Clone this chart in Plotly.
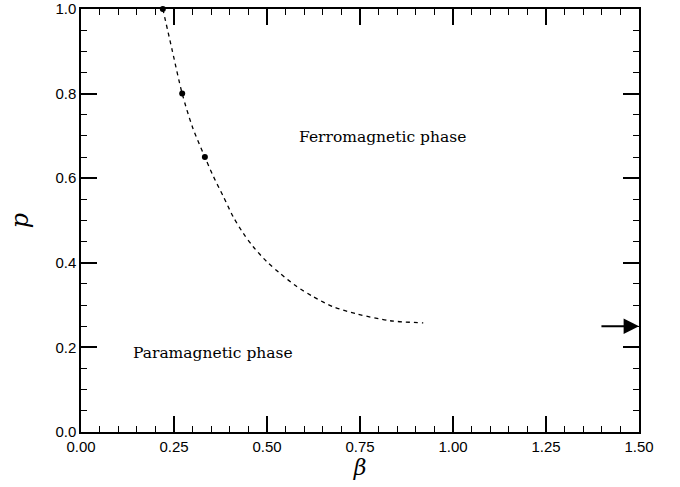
import plotly.graph_objects as go

# Phase boundary (dashed curve)
curve_beta = [0.220, 0.245, 0.272, 0.300, 0.333, 0.356, 0.383, 0.409, 0.436, 0.463, 0.499,
              0.535, 0.580, 0.624, 0.678, 0.742, 0.831, 0.920]
curve_p    = [1.000, 0.903, 0.800, 0.720, 0.650, 0.604, 0.556, 0.509, 0.470, 0.438, 0.403,
              0.375, 0.344, 0.320, 0.296, 0.279, 0.263, 0.258]

# Measured points
pts_beta = [0.22, 0.272, 0.333]
pts_p = [1.0, 0.80, 0.65]

# Arrow at large beta
arrow_p = 0.25

labels = ["Ferromagnetic phase", "Paramagnetic phase"]
label_beta = [0.81, 0.355]
label_p = [0.697, 0.187]

fig = go.Figure()
fig.add_trace(go.Scatter(x=curve_beta, y=curve_p, mode="lines",
                         line=dict(color="black", width=1.3, dash="4px,4px", shape="spline", smoothing=0.8),
                         showlegend=False, cliponaxis=False))
fig.add_trace(go.Scatter(x=pts_beta, y=pts_p, mode="markers",
                         marker=dict(color="black", size=6),
                         showlegend=False, cliponaxis=False))

for t, xb, yp in zip(labels, label_beta, label_p):
    fig.add_annotation(x=xb, y=yp, text=t, showarrow=False,
                       font=dict(family="DejaVu Serif", size=15.5, color="black"))

fig.add_annotation(x=1.5, y=arrow_p, ax=1.395, ay=arrow_p, axref="x", ayref="y",
                   xref="x", yref="y", text="", showarrow=True,
                   arrowhead=2, arrowsize=1.4, arrowwidth=2.2, arrowcolor="black")

axis_common = dict(showgrid=False, zeroline=False, showline=True, linecolor="black",
                   linewidth=1.5, mirror="ticks", ticks="inside", tickcolor="black",
                   tickwidth=1.5, ticklen=16, automargin=False, ticklabeloverflow="allow",
                   tickfont=dict(family="Liberation Sans", size=15, color="black"))

fig.update_xaxes(range=[0, 1.5], dtick=0.25, tick0=0, tickformat=".2f",
                 minor=dict(dtick=0.05, ticks="inside", ticklen=6, tickcolor="black", tickwidth=1),
                 title=dict(text="<i>β</i>", font=dict(family="DejaVu Serif", size=22, color="black"), standoff=6),
                 **axis_common)
fig.update_yaxes(range=[0, 1.0], dtick=0.2, tick0=0, tickformat=".1f",
                 minor=dict(dtick=0.05, ticks="inside", ticklen=6, tickcolor="black", tickwidth=1),
                 title=dict(text="<i>p</i>", font=dict(family="DejaVu Serif", size=24, color="black"), standoff=20),
                 **axis_common)

fig.update_layout(width=680, height=487, plot_bgcolor="white", paper_bgcolor="white",
                  margin=dict(l=81, r=41, t=9, b=55))

fig.write_html("out.html", config={"displayModeBar": False},
               post_script="document.body.style.margin='0';")
